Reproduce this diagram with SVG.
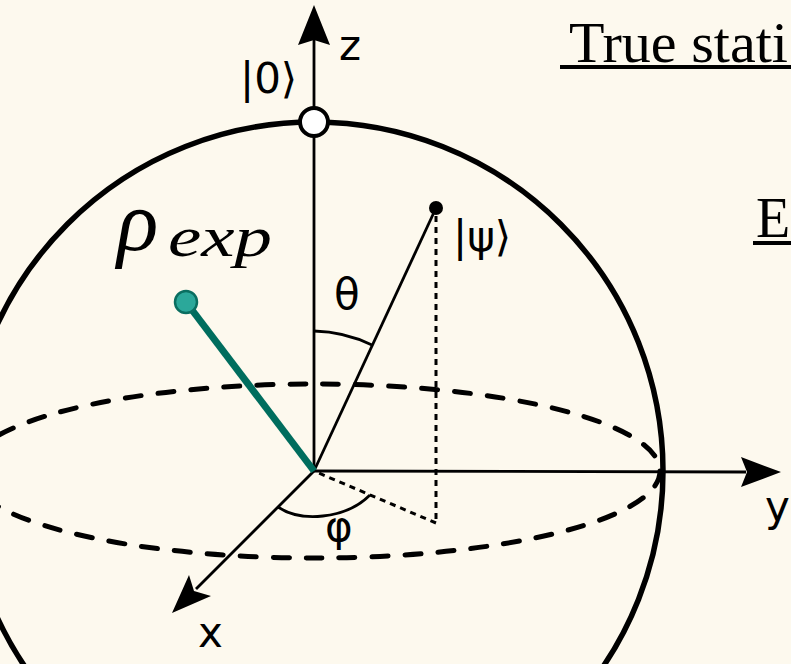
<svg xmlns="http://www.w3.org/2000/svg" width="791" height="664" viewBox="0 0 791 664">
<style>
.bg{fill:#FDF9EE}
.lbl{font-family:"DejaVu Sans","Liberation Sans",sans-serif;font-size:42px;fill:#000}
.ser{font-family:"Liberation Serif","DejaVu Serif",serif;fill:#000}
.axis{stroke:#000;stroke-width:2.8;fill:none}
.arrow{fill:#000;stroke:none}
.dot{stroke:#000;stroke-width:3;fill:none;stroke-dasharray:6 5}
</style>
<rect class="bg" x="0" y="0" width="791" height="664"/>
<g id="sphere">
<ellipse cx="314" cy="471" rx="346" ry="87" fill="none" stroke="#000" stroke-width="5" stroke-dasharray="16 17" stroke-linecap="round"/>
<circle cx="314" cy="471" r="349" fill="none" stroke="#000" stroke-width="5.5"/>
</g>
<g id="connectors">
<line class="axis" x1="314" y1="471" x2="314" y2="40"/>
<path class="arrow" d="M314,5 L330,45 L314,40 L298,45 Z"/>
<line class="axis" x1="314" y1="471" x2="746" y2="472"/>
<path class="arrow" d="M781,472 L741,487 L747,472 L741,457 Z"/>
<line class="axis" x1="314" y1="471" x2="196" y2="589"/>
<path class="arrow" d="M172,613 L189,575 L194,591 L211,596 Z"/>
<line class="axis" x1="314" y1="471" x2="436" y2="208"/>
<line class="dot" x1="436" y1="216" x2="436" y2="523"/>
<line class="dot" x1="436" y1="523" x2="314" y2="471"/>
<path class="axis" d="M314,331 A140,140 0 0 1 372,345"/>
<path class="axis" d="M278,507 C300,522 345,520 370,495"/>
<line x1="186" y1="302" x2="314" y2="471" stroke="#006D5E" stroke-width="7"/>
</g>
<g id="zero-state">
<circle cx="314" cy="122" r="14" fill="#fff" stroke="#000" stroke-width="4"/>
<text class="lbl" x="240" y="93">|0⟩</text>
</g>
<g id="axis-labels">
<text class="lbl" x="339" y="60">z</text>
<text class="lbl" x="765" y="521">y</text>
<text class="lbl" x="198" y="647">x</text>
<text class="lbl" x="334" y="309">θ</text>
<text class="lbl" x="325" y="541">φ</text>
</g>
<g id="psi">
<circle cx="436" cy="208" r="7" fill="#000"/>
<text class="lbl" x="453" y="251">|ψ⟩</text>
</g>
<g id="rho-exp">
<circle cx="186" cy="302" r="11" fill="#2BA89A" stroke="#0A6E60" stroke-width="2.5"/>
<text class="ser" x="117" y="250" font-size="86" font-style="italic">ρ</text>
<text class="ser" x="168" y="256" font-size="58" font-style="italic" textLength="104" lengthAdjust="spacingAndGlyphs">exp</text>
</g>
<g id="true-state">
<text class="ser" x="569" y="62" font-size="56" textLength="219" lengthAdjust="spacingAndGlyphs">True stati</text>
<rect x="560" y="65" width="231" height="4" fill="#000"/>
</g>
<g id="estimate">
<text class="ser" x="756" y="237" font-size="56">E</text>
<rect x="753" y="241" width="38" height="4" fill="#000"/>
</g>
</svg>
